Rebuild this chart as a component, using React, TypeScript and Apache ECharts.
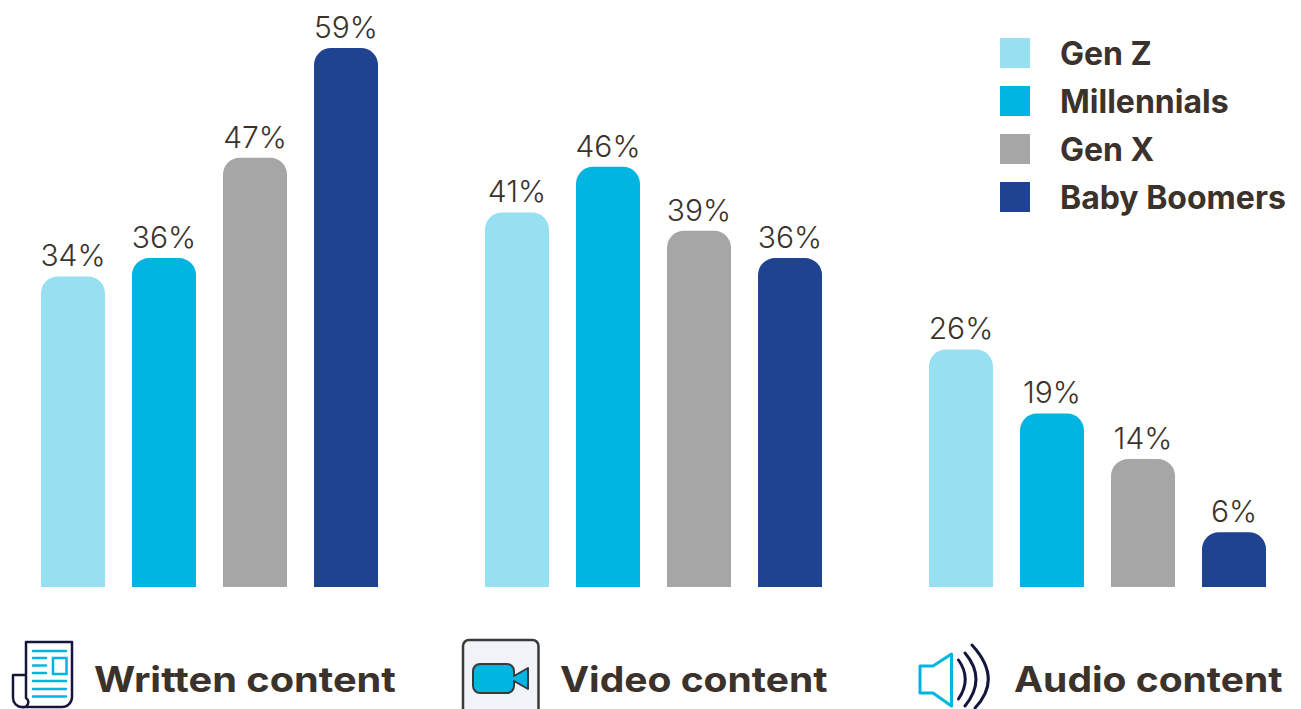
import React, { useEffect, useRef } from "react";
import * as echarts from "echarts";

const contentTypes = ["Written content", "Video content", "Audio content"];
const genZ = [34, 41, 26];
const millennials = [36, 46, 19];
const genX = [47, 39, 14];
const babyBoomers = [59, 36, 6];

const generations = ["Gen Z", "Millennials", "Gen X", "Baby Boomers"];
const generationValues = [genZ, millennials, genX, babyBoomers];
const generationColors = ["#96E0F2", "#00B5E2", "#A6A6A6", "#1F4291"];

const FONT = "Inter";
const INK = "#3B322C";
const NAVY = "#14163C";
const CYAN = "#00B5E2";
const CHARCOAL = "#3A3A3A";

// Icon outlines, in page coordinates.
const newspaperOutline =
  "M26 674 V642 H72 V697 A10 10 0 0 1 62 707 H22 A9 9 0 0 1 13 698 V675 H26 V698 A5 5 0 0 1 22 707";
const newspaperRules =
  "M33 651 H66 M33 658 H46 M33 665.5 H46 M33 673 H46 M33 681 H66 M33 689 H66 M33 696.5 H66";
const speakerCone = "M920 666 H933 L951.5 654 V706 L933 693 H920 Z";
const speakerWaves =
  "M958.5 660 Q972 679 958.5 699 M965 653 Q987 679 965 706 M972 645 Q1003 679 975 708";
const cameraBody =
  "M480 664 H507 A7 7 0 0 1 514 671 V676 L528 668 V689 L514 681 V686 A7 7 0 0 1 507 693 H480 A7 7 0 0 1 473 686 V671 A7 7 0 0 1 480 664 Z";

echarts.graphic.registerShape("newspaperOutline", echarts.graphic.extendPath(newspaperOutline, {}));
echarts.graphic.registerShape("newspaperRules", echarts.graphic.extendPath(newspaperRules, {}));
echarts.graphic.registerShape("speakerCone", echarts.graphic.extendPath(speakerCone, {}));
echarts.graphic.registerShape("speakerWaves", echarts.graphic.extendPath(speakerWaves, {}));
echarts.graphic.registerShape("cameraBody", echarts.graphic.extendPath(cameraBody, {}));

const captionX = [94, 560, 1014];
const captionStretch = [1.136, 1.115, 1.115];

export default function App() {
  const ref = useRef<HTMLDivElement>(null);

  useEffect(() => {
    const chart = echarts.init(ref.current!, undefined, { renderer: "svg" });
    chart.setOption({
      animation: false,
      backgroundColor: "#FFFFFF",
      grid: { left: -12.5, width: 1332, top: 48, height: 539, outerBoundsMode: "none" },
      xAxis: {
        type: "category",
        data: contentTypes,
        axisLine: { show: false },
        axisTick: { show: false },
        axisLabel: { show: false },
      },
      yAxis: { type: "value", min: 0, max: 59, show: false, splitLine: { show: false } },
      legend: {
        orient: "vertical",
        left: 1000,
        top: 37,
        padding: 0,
        itemWidth: 30,
        itemHeight: 30,
        itemGap: 16,
        icon: "rect",
        data: generations,
        textStyle: {
          fontFamily: FONT,
          fontSize: 32,
          fontWeight: 700,
          color: INK,
          padding: [0, 0, 0, 25],
        },
      },
      series: generations.map((name, i) => ({
        name,
        type: "bar",
        data: generationValues[i],
        barWidth: 64,
        barGap: "42.2%",
        itemStyle: { color: generationColors[i], borderRadius: [17, 17, 0, 0] },
        label: {
          show: true,
          position: "top",
          distance: 6,
          formatter: "{c}%",
          fontFamily: FONT,
          fontSize: 30,
          fontWeight: 300,
          color: INK,
        },
      })),
      graphic: [
        ...contentTypes.map((text, i) => ({
          type: "text",
          x: captionX[i],
          y: 679,
          scaleX: captionStretch[i],
          style: {
            text,
            fontFamily: FONT,
            fontSize: 35,
            fontWeight: 700,
            fill: INK,
            textVerticalAlign: "middle",
          },
        })),
        {
          type: "newspaperOutline",
          style: { fill: "none", stroke: NAVY, lineWidth: 2.5, lineJoin: "round" },
        },
        {
          type: "newspaperRules",
          style: { fill: "none", stroke: CYAN, lineWidth: 2.5, lineCap: "round" },
        },
        {
          type: "rect",
          shape: { x: 53, y: 658, width: 13.5, height: 16 },
          style: { fill: "none", stroke: CYAN, lineWidth: 2.5 },
        },
        {
          type: "rect",
          shape: { x: 463, y: 640, width: 75.5, height: 90, r: 6 },
          style: { fill: "#F0F4F8", stroke: CHARCOAL, lineWidth: 2.5 },
        },
        {
          type: "cameraBody",
          style: { fill: CYAN, stroke: CHARCOAL, lineWidth: 2, lineJoin: "round" },
        },
        {
          type: "speakerCone",
          style: { fill: "none", stroke: CYAN, lineWidth: 3, lineJoin: "round" },
        },
        {
          type: "speakerWaves",
          style: { fill: "none", stroke: NAVY, lineWidth: 3, lineCap: "round" },
        },
      ],
    });
    return () => chart.dispose();
  }, []);

  return <div ref={ref} style={{ position: "fixed", left: 0, top: 0, width: 1301, height: 709 }} />;
}
